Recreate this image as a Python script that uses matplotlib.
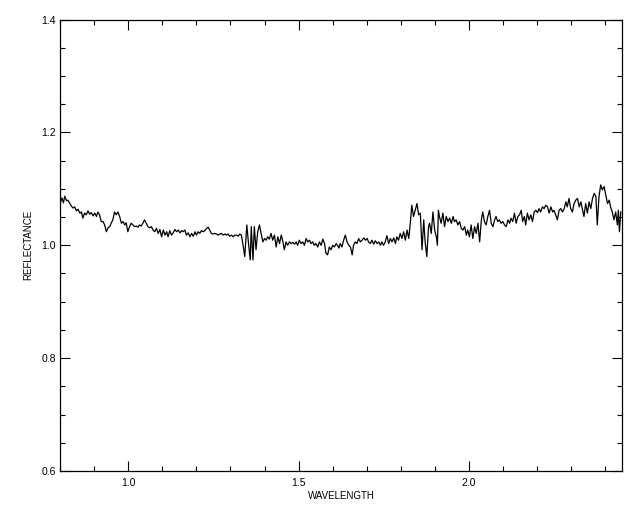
"""
plot.py

Reflectance spectrum, drawn in the plain style of an IDL plot:
black line, ticks pointing inwards on all four sides.
"""

import matplotlib
matplotlib.use("Agg")
import matplotlib.pyplot as plt
from matplotlib.ticker import MultipleLocator, FormatStrFormatter

# wavelength (micron) and reflectance
wavelength = [
    0.802, 0.806, 0.810, 0.814, 0.819, 0.823, 0.828, 0.833, 0.838, 0.843,
    0.848, 0.853, 0.858, 0.863, 0.867, 0.872, 0.877, 0.882, 0.887, 0.892,
    0.897, 0.902, 0.907, 0.911, 0.916, 0.921, 0.926, 0.931, 0.936, 0.941,
    0.946, 0.950, 0.955, 0.960, 0.965, 0.970, 0.975, 0.980, 0.985, 0.990,
    0.994, 0.999, 1.004, 1.009, 1.014, 1.019, 1.024, 1.029, 1.033, 1.038,
    1.043, 1.048, 1.053, 1.058, 1.063, 1.068, 1.073,
    1.078, 1.083, 1.088, 1.093, 1.098, 1.103, 1.108, 1.113, 1.117, 1.122,
    1.127, 1.132, 1.137, 1.142, 1.147, 1.152, 1.157, 1.161, 1.166, 1.171,
    1.176, 1.181, 1.186, 1.191, 1.196, 1.200, 1.205, 1.210, 1.215, 1.220,
    1.225, 1.230, 1.235, 1.240, 1.244, 1.249, 1.254, 1.259, 1.264, 1.269,
    1.274, 1.279, 1.284, 1.288, 1.293, 1.298, 1.303, 1.308, 1.313, 1.318,
    1.323, 1.327, 1.332, 1.337, 1.342,
    1.348, 1.353, 1.358, 1.361, 1.366, 1.370, 1.375, 1.380, 1.385, 1.390,
    1.395, 1.400, 1.405, 1.409, 1.414, 1.419, 1.424, 1.429, 1.434, 1.439,
    1.444, 1.449, 1.453, 1.458, 1.463, 1.468, 1.473, 1.478, 1.483, 1.488,
    1.493, 1.497, 1.502, 1.507, 1.512, 1.517, 1.522, 1.527, 1.532, 1.536,
    1.541, 1.546, 1.551, 1.556, 1.561, 1.566, 1.571, 1.576, 1.580, 1.585,
    1.590, 1.595, 1.600, 1.605, 1.610, 1.615,
    1.618, 1.622, 1.627, 1.632, 1.637, 1.642, 1.647, 1.652, 1.657, 1.661,
    1.666, 1.671, 1.676, 1.681, 1.686, 1.691, 1.696, 1.701, 1.705, 1.710,
    1.715, 1.720, 1.725, 1.730, 1.735, 1.740, 1.744, 1.749, 1.754, 1.759,
    1.764, 1.769, 1.774, 1.779, 1.784, 1.788, 1.793, 1.798, 1.803, 1.808,
    1.813, 1.818, 1.823, 1.828, 1.832, 1.837, 1.842, 1.847, 1.852, 1.857,
    1.862, 1.867, 1.871, 1.876, 1.881,
    1.884, 1.889, 1.894, 1.899, 1.904, 1.907, 1.910, 1.913, 1.918, 1.923,
    1.928, 1.933, 1.938, 1.943, 1.948, 1.953, 1.957, 1.962, 1.967, 1.972,
    1.977, 1.982, 1.987, 1.992, 1.996, 2.001, 2.006, 2.011, 2.016, 2.021,
    2.026, 2.031, 2.036, 2.040, 2.045, 2.050, 2.055, 2.060, 2.065, 2.070,
    2.075, 2.079, 2.084, 2.089, 2.094, 2.099, 2.104, 2.109, 2.114, 2.119,
    2.123, 2.128, 2.133, 2.138, 2.143, 2.148, 2.153,
    2.157, 2.162, 2.166, 2.171, 2.176, 2.181, 2.186, 2.191, 2.196, 2.201,
    2.205, 2.210, 2.215, 2.220, 2.225, 2.230, 2.235, 2.240, 2.245, 2.249,
    2.254, 2.259, 2.264, 2.269, 2.274, 2.279, 2.284, 2.288, 2.293, 2.298,
    2.303, 2.308, 2.313, 2.318, 2.323, 2.328, 2.332, 2.337, 2.342, 2.347,
    2.352, 2.357, 2.362, 2.367, 2.372, 2.376, 2.381, 2.386, 2.391, 2.396,
    2.401, 2.406, 2.411, 2.415, 2.420, 2.425, 2.430, 2.435, 2.438, 2.441,
    2.445,
]

reflectance = [
    1.077, 1.084, 1.075, 1.087, 1.079, 1.080, 1.075, 1.070, 1.066, 1.068,
    1.061, 1.064, 1.057, 1.059, 1.048, 1.057, 1.054, 1.061, 1.055, 1.058,
    1.052, 1.057, 1.051, 1.059, 1.054, 1.042, 1.042, 1.036, 1.024, 1.031,
    1.033, 1.039, 1.045, 1.059, 1.054, 1.059, 1.051, 1.039, 1.042, 1.036,
    1.040, 1.024, 1.033, 1.039, 1.036, 1.033, 1.034, 1.032, 1.036, 1.034,
    1.039, 1.045, 1.039, 1.033, 1.031, 1.033, 1.027,
    1.024, 1.030, 1.021, 1.028, 1.015, 1.027, 1.018, 1.024, 1.015, 1.026,
    1.018, 1.022, 1.028, 1.024, 1.027, 1.022, 1.026, 1.024, 1.027, 1.018,
    1.022, 1.015, 1.021, 1.016, 1.024, 1.018, 1.024, 1.021, 1.026, 1.024,
    1.026, 1.030, 1.032, 1.026, 1.021, 1.020, 1.021, 1.020, 1.018, 1.020,
    1.021, 1.018, 1.020, 1.018, 1.020, 1.016, 1.018, 1.015, 1.018, 1.018,
    1.016, 1.020, 1.018, 1.000, 0.980,
    1.036, 1.003, 0.974, 1.033, 0.974, 1.033, 0.992, 1.024, 1.036, 1.021,
    1.006, 1.012, 1.009, 1.015, 1.011, 1.021, 1.009, 1.018, 0.997, 1.015,
    1.003, 1.018, 1.009, 0.992, 1.006, 1.000, 1.006, 1.003, 1.005, 1.002,
    1.006, 1.000, 1.009, 1.003, 1.006, 1.000, 1.012, 1.006, 1.009, 1.003,
    1.006, 1.000, 1.003, 0.997, 1.006, 1.000, 1.011, 1.003, 0.986, 0.983,
    0.997, 0.992, 1.000, 0.997, 1.003, 0.999,
    0.995, 1.003, 0.997, 1.009, 1.018, 1.006, 1.000, 0.997, 0.983, 1.000,
    1.006, 1.003, 1.012, 1.006, 1.009, 1.013, 1.009, 1.012, 1.006, 1.003,
    1.009, 1.002, 1.008, 1.003, 1.006, 1.000, 1.006, 1.000, 1.006, 1.017,
    1.003, 1.012, 1.006, 1.013, 1.003, 1.015, 1.009, 1.021, 1.012, 1.024,
    1.009, 1.027, 1.012, 1.042, 1.071, 1.051, 1.062, 1.074, 1.054, 1.057,
    0.992, 1.045, 1.006, 0.980, 1.033,
    1.039, 1.021, 1.059, 1.027, 1.015, 1.000, 1.062, 1.051, 1.039, 1.057,
    1.033, 1.051, 1.042, 1.048, 1.039, 1.051, 1.042, 1.045, 1.036, 1.042,
    1.030, 1.027, 1.033, 1.018, 1.027, 1.015, 1.036, 1.012, 1.033, 1.021,
    1.039, 1.006, 1.045, 1.059, 1.042, 1.036, 1.051, 1.062, 1.039, 1.033,
    1.045, 1.051, 1.042, 1.045, 1.039, 1.042, 1.036, 1.033, 1.045, 1.039,
    1.048, 1.042, 1.057, 1.039, 1.051, 1.054, 1.062,
    1.042, 1.051, 1.036, 1.057, 1.045, 1.054, 1.042, 1.059, 1.062, 1.058,
    1.065, 1.059, 1.068, 1.065, 1.071, 1.068, 1.057, 1.068, 1.059, 1.062,
    1.054, 1.045, 1.062, 1.065, 1.059, 1.065, 1.077, 1.068, 1.083, 1.065,
    1.059, 1.074, 1.080, 1.083, 1.068, 1.077, 1.065, 1.051, 1.074, 1.057,
    1.077, 1.065, 1.083, 1.092, 1.086, 1.036, 1.086, 1.107, 1.098, 1.104,
    1.089, 1.074, 1.080, 1.068, 1.059, 1.045, 1.059, 1.036, 1.062, 1.024,
    1.059,
]

x_range = (0.8, 2.45)
y_range = (0.6, 1.4)

plt.rcParams["font.family"] = ["Liberation Sans", "DejaVu Sans"]

fig = plt.figure(figsize=(6.4, 5.12), dpi=100)
ax = fig.add_axes([0.09375, 0.080, 0.8789, 0.8819])

ax.plot(wavelength, reflectance, color="black", linewidth=0.9)

ax.set_xlim(*x_range)
ax.set_ylim(*y_range)

# IDL-like ticks: inward, on every side
ax.xaxis.set_major_locator(MultipleLocator(0.5))
ax.xaxis.set_minor_locator(MultipleLocator(0.1))
ax.yaxis.set_major_locator(MultipleLocator(0.2))
ax.yaxis.set_minor_locator(MultipleLocator(0.05))
ax.xaxis.set_major_formatter(FormatStrFormatter("%.1f"))
ax.yaxis.set_major_formatter(FormatStrFormatter("%.1f"))
ax.tick_params(which="both", direction="in", top=True, right=True,
               width=0.8, colors="black", labelsize=7.5)
ax.tick_params(which="major", length=7)
ax.tick_params(which="minor", length=3.6)
ax.tick_params(axis="x", pad=5)
ax.tick_params(axis="y", pad=3)

for spine in ax.spines.values():
    spine.set_linewidth(0.9)

ax.set_xlabel("WAVELENGTH", fontsize=7, labelpad=2)
ax.set_ylabel("REFLECTANCE", fontsize=7, labelpad=6)

fig.savefig("out.png", dpi=100)
